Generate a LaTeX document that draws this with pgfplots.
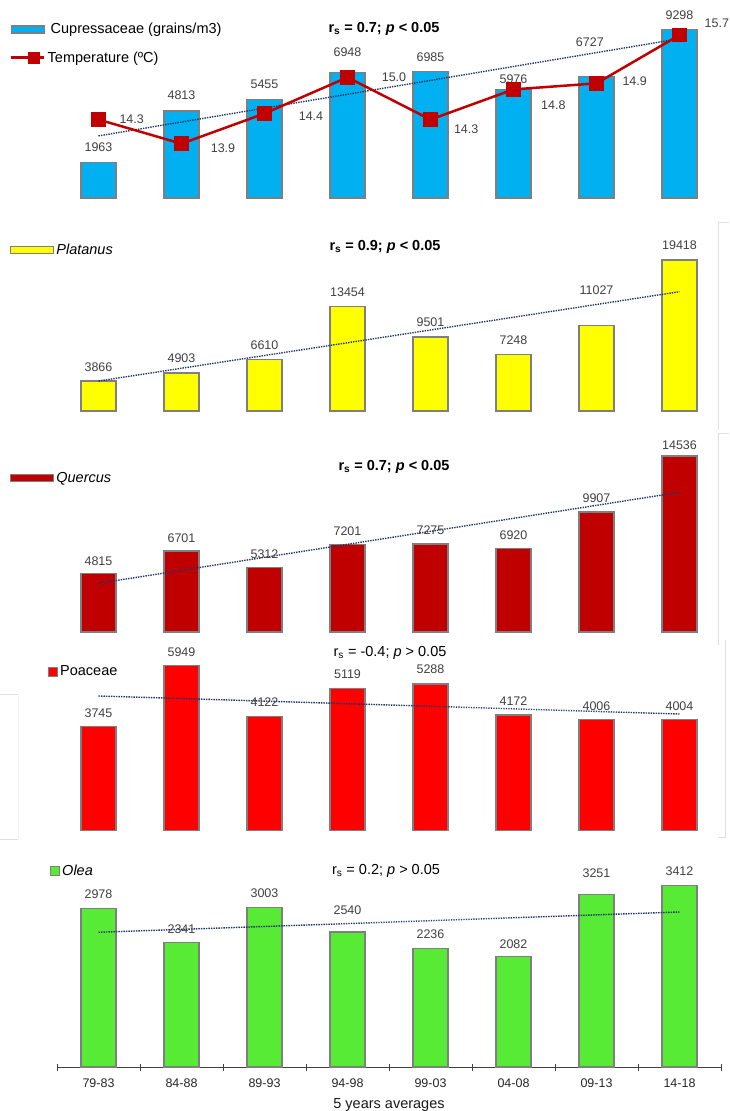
\documentclass[border=0pt]{standalone}
\usepackage{pgfplots}
\pgfplotsset{compat=1.18}
\usepackage{fontspec}
\setmainfont{Liberation Sans}
\definecolor{cupblue}{HTML}{00B0F0}
\definecolor{tempred}{HTML}{C00000}
\definecolor{platyellow}{HTML}{FFFF00}
\definecolor{quercusred}{HTML}{C00000}
\definecolor{poaceared}{HTML}{FF0000}
\definecolor{oleagreen}{HTML}{57EB36}
\definecolor{edgegray}{HTML}{7F7F7F}
\definecolor{trendblue}{HTML}{203864}
\definecolor{labgray}{HTML}{404040}
\newcommand\numfont{\fontsize{12.5}{14}\selectfont}
\newcommand\legfont{\fontsize{14.5}{17}\selectfont}
\pgfplotsset{
  panel/.style={scale only axis, width=664pt, xmin=-0.5, xmax=7.5, ymin=0, clip=false, anchor=south west,
    legend cell align=left,
    legend style={draw=none, fill=none, anchor=west, font=\legfont, inner sep=0pt, row sep=6pt}},
  barstyle/.style={ybar, bar width=35pt, draw=edgegray, line width=1.3pt},
  trend/.style={color=trendblue, line width=1.4pt, dash pattern=on 1.4pt off 1.1pt, forget plot},
  labs/.style={only marks, mark=*, mark size=0pt, mark options={draw=none, fill=none}, forget plot,
    point meta=explicit symbolic, nodes near coords,
    every node near coord/.append style={anchor=center, font=\numfont, text=labgray, inner sep=0pt}},
}
\begin{document}
\begin{tikzpicture}
\useasboundingbox (0pt,0pt) rectangle (729pt,-1111pt);

% ---------------- Panel 1: Cupressaceae + temperature
\begin{axis}[panel, at={(57pt,-198pt)}, height=181pt, ymax=10000, hide axis,
  legend style={at={(axis description cs:-0.0708,0.8536)}, row sep=12pt}]
\addplot[barstyle, fill=cupblue,
  legend image code/.code={\draw[fill=cupblue, draw=edgegray, line width=1.2pt] (0pt,-3.5pt) rectangle (33pt,3.5pt);}]
  coordinates {(0,1963) (1,4813) (2,5455) (3,6948) (4,6985) (5,5976) (6,6727) (7,9298)};
\addlegendentry{\hspace{3pt}Cupressaceae (grains/m3)}
\addlegendimage{legend image code/.code={\draw[tempred, line width=2.5pt] (0pt,0pt) -- (33pt,0pt);
  \node[rectangle, fill=tempred, minimum size=12pt, inner sep=0pt] at (16.5pt,0pt) {};}}
\addlegendentry{Temperature (ºC)}
\addplot[trend] coordinates {(0,3431) (7,8799)};
\addplot[labs] table[meta=lab] {
x y lab
0 2784 1963
1 5656 4813
2 6270 5455
3 8080 6948
4 7786 6985
5 6586 5976
5.92 8594 6727
7 10089 9298
};
\end{axis}
\begin{axis}[panel, at={(57pt,-198pt)}, height=181pt, ymin=13, ymax=16, hide axis]
\addplot[color=tempred, line width=2.5pt, mark=square*, mark size=6pt, mark options={solid, fill=tempred}]
  coordinates {(0,14.3) (1,13.9) (2,14.4) (3,15.0) (4,14.3) (5,14.8) (6,14.9) (7,15.7)};
\addplot[labs] table[meta=lab] {
x y lab
0.40 14.30 14.3
1.50 13.83 13.9
2.56 14.36 14.4
3.56 15.00 15.0
4.43 14.14 14.3
5.48 14.54 14.8
6.46 14.94 14.9
7.45 15.90 15.7
};
\end{axis}
\node[font=\legfont\bfseries] at (384pt,-29pt) {r\textsubscript{s} = 0.7; \textit{p} < 0.05};

% ---------------- Panel 2: Platanus
\begin{axis}[panel, at={(57pt,-411pt)}, height=186.6pt, ymax=24000, hide axis,
  legend style={at={(axis description cs:-0.0708,0.8628)}}]
\addplot[barstyle, fill=platyellow,
  legend image code/.code={\draw[fill=platyellow, draw=edgegray, line width=1.2pt] (0pt,-3.6pt) rectangle (43pt,3.6pt);}]
  coordinates {(0,3866) (1,4903) (2,6610) (3,13454) (4,9501) (5,7248) (6,11027) (7,19418)};
\addlegendentry{\itshape Platanus}
\addplot[trend] coordinates {(0,3858) (7,15342)};
\addplot[labs] table[meta=lab] {
x y lab
0 5697 3866
1 6777 4903
2 8488 6610
3 15342 13454
4 11407 9501
5 9169 7248
6 15600 11027
7 21309 19418
};
\end{axis}
\node[font=\legfont\bfseries] at (385pt,-247pt) {r\textsubscript{s} = 0.9; \textit{p} < 0.05};

% ---------------- Panel 3: Quercus
\begin{axis}[panel, at={(57pt,-632pt)}, height=193.7pt, ymax=16000, hide axis,
  legend style={at={(axis description cs:-0.0708,0.795)}}]
\addplot[barstyle, fill=quercusred,
  legend image code/.code={\draw[fill=quercusred, draw=edgegray, line width=1.2pt] (0pt,-3.4pt) rectangle (43pt,3.4pt);}]
  coordinates {(0,4815) (1,6701) (2,5312) (3,7201) (4,7275) (5,6920) (6,9907) (7,14536)};
\addlegendentry{\itshape Quercus}
\addplot[trend] coordinates {(0,4022) (7,11538)};
\addplot[labs] table[meta=lab] {
x y lab
0 5864 4815
1 7788 6701
2 6401 5312
3 8342 7201
4 8383 7275
5 8036 6920
6 11067 9907
7 15469 14536
};
\end{axis}
\node[font=\legfont\bfseries] at (394pt,-467pt) {r\textsubscript{s} = 0.7; \textit{p} < 0.05};

% ---------------- Panel 4: Poaceae
\begin{axis}[panel, at={(57pt,-830.7pt)}, height=194.2pt, ymax=7000, hide axis,
  legend style={at={(axis description cs:-0.01355,0.8198)}}]
\addplot[barstyle, fill=poaceared,
  legend image code/.code={\draw[fill=poaceared, draw=edgegray, line width=1pt] (0pt,-4.5pt) rectangle (9pt,4.5pt);}]
  coordinates {(0,3745) (1,5949) (2,4122) (3,5119) (4,5288) (5,4172) (6,4006) (7,4004)};
\addlegendentry{Poaceae}
\addplot[trend] coordinates {(0,4857) (7,4207)};
\addplot[labs] table[meta=lab] {
x y lab
0 4218 3745
1 6443 5949
2 4622 4122
3 5625 5119
4 5819 5288
5 4665 4172
6 4485 4006
7 4485 4004
};
\end{axis}
\node[font=\legfont] at (390pt,-653pt) {r\textsubscript{s} = -0.4; \textit{p} > 0.05};

% ---------------- Panel 5: Olea
\begin{axis}[panel, at={(57pt,-1067pt)}, height=212.6pt, ymax=4000,
  axis x line*=bottom, axis y line=none, ytick=\empty,
  x axis line style={-, black!75, line width=0.8pt},
  xtick={0,1,2,3,4,5,6,7},
  xticklabels={79-83,84-88,89-93,94-98,99-03,04-08,09-13,14-18},
  major x tick style={draw=none},
  minor xtick={-0.5,0.5,1.5,2.5,3.5,4.5,5.5,6.5,7.5},
  minor x tick style={black!75, line width=0.8pt},
  minor tick length=7pt, tick align=center,
  xticklabel style={font=\numfont, text=black!85, yshift=-6pt},
  xlabel={5 years averages}, xlabel style={font=\legfont, text=black!90, yshift=-4pt},
  legend style={at={(axis description cs:-0.0105,0.922)}}]
\addplot[barstyle, fill=oleagreen,
  legend image code/.code={\draw[fill=oleagreen, draw=edgegray, line width=1pt] (0pt,-4.3pt) rectangle (9pt,4.3pt);}]
  coordinates {(0,2978) (1,2341) (2,3003) (3,2540) (4,2236) (5,2082) (6,3251) (7,3412)};
\addlegendentry{\itshape Olea}
\addplot[trend] coordinates {(0,2535) (7,2917)};
\addplot[labs] table[meta=lab] {
x y lab
0 3252 2978
1 2588 2341
2 3274 3003
3 2945 2540
4 2497 2236
5 2302 2082
6 3638 3251
7 3683 3412
};
\end{axis}
\node[font=\legfont] at (386pt,-871pt) {r\textsubscript{s} = 0.2; \textit{p} > 0.05};

% ---------------- faint frame remnants
\draw[gray!25, line width=0.8pt] (729pt,-222pt) -- (718pt,-222pt) -- (718pt,-430pt);
\draw[gray!25, line width=0.8pt] (729pt,-433pt) -- (718pt,-433pt) -- (718pt,-645pt);
\draw[gray!25, line width=0.8pt] (725pt,-640pt) -- (725pt,-837pt) -- (718pt,-837pt);
\draw[gray!25, line width=0.8pt] (0pt,-694pt) -- (18pt,-694pt);
\draw[gray!10, line width=0.6pt] (18pt,-694pt) -- (18pt,-839pt);
\draw[gray!25, line width=0.8pt] (0pt,-839pt) -- (18pt,-839pt);
\end{tikzpicture}
\end{document}
